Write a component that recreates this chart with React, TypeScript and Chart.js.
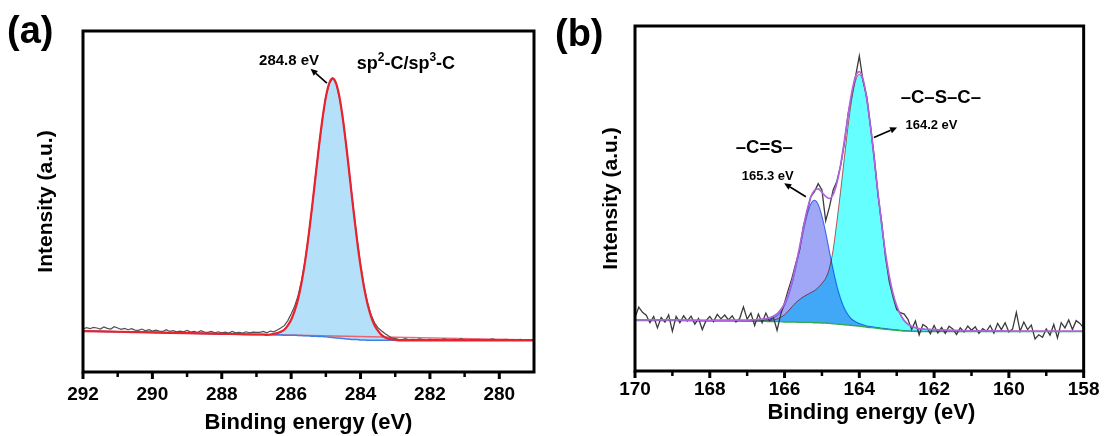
import React, { useEffect, useRef } from 'react';
import { Chart, registerables } from 'chart.js';

Chart.register(...registerables);

const FONT = '"Liberation Sans", Arial, sans-serif';
const W = 1107;
const H = 436;

// ================= Panel (a): C 1s =================
const rangeA = [279, 292];
const ticksA = [292, 290, 288, 286, 284, 282, 280];
const minorTicksA = [291, 289, 287, 285, 283, 281];
const rawStartA = 292.0;
const rawStepA = 0.1;
const rawA = [
  12.6, 13.0, 12.7, 13.1, 12.9, 12.6, 13.2, 12.8, 12.6, 13.3,
  12.9, 12.5, 12.8, 12.4, 12.7, 12.3, 12.2, 12.6, 12.1, 12.4,
  12.0, 12.3, 12.0, 11.9, 12.4, 11.9, 12.1, 11.8, 12.0, 11.8,
  12.2, 11.7, 11.9, 11.6, 12.1, 11.7, 11.6, 11.9, 11.5, 11.8,
  11.5, 11.7, 11.4, 11.9, 11.5, 11.6, 11.4, 11.8, 11.5, 11.7,
  11.6, 11.6, 11.9, 11.5, 12.0, 11.8, 12.3, 12.9, 13.6, 15.0,
  17.0, 19.3, 22.4, 26.8, 32.6, 39.9, 48.0, 57.3, 66.2, 74.0,
  80.8, 84.6, 86.2, 84.6, 80.1, 73.8, 65.2, 56.4, 47.3, 38.9,
  31.5, 25.2, 20.4, 16.9, 14.5, 13.0, 12.1, 11.3, 10.6, 10.0,
  9.8, 9.6, 9.5, 9.8, 9.4, 9.6, 9.4, 9.7, 9.5, 9.3,
  9.6, 9.4, 9.5, 9.3, 9.7, 9.4, 9.3, 9.6, 9.4, 9.8,
  9.4, 9.3, 9.5, 9.4, 9.6, 9.3, 9.5, 9.4, 9.7, 9.4,
  9.3, 9.5, 9.6, 9.4, 9.5, 9.3, 9.6, 9.4, 9.5, 9.4,
  9.6,
];
const fitXA = [
  292, 291, 290, 289, 288, 287.5,
  287.0, 286.9, 286.8, 286.7, 286.6, 286.5, 286.4, 286.3, 286.2, 286.1,
  286.0, 285.9, 285.8, 285.7, 285.6, 285.5, 285.4, 285.3, 285.2, 285.1,
  285.0, 284.9, 284.8, 284.7, 284.6, 284.5, 284.4, 284.3, 284.2, 284.1,
  284.0, 283.9, 283.8, 283.7, 283.6, 283.5, 283.4, 283.3, 283.2, 283.1,
  283.0, 282.9, 282.8, 282.7, 282.6,
  282, 281, 280, 279,
];
const bgA = [
  12.0, 11.8, 11.6, 11.4, 11.2, 11.1,
  11.0, 11.0, 11.0, 10.9, 10.9, 10.9, 10.9, 10.9, 10.8, 10.8,
  10.8, 10.8, 10.7, 10.7, 10.6, 10.6, 10.5, 10.5, 10.4, 10.4,
  10.3, 10.2, 10.1, 10.0, 9.9, 9.8, 9.7, 9.6, 9.5, 9.5,
  9.4, 9.4, 9.3, 9.3, 9.3, 9.3, 9.3, 9.3, 9.3, 9.3,
  9.3, 9.3, 9.3, 9.3, 9.3,
  9.3, 9.3, 9.3, 9.3,
];
const peakA = [
  0, 0, 0, 0, 0, 0,
  0, 0, 0, 0, 0.1, 0.3, 0.5, 0.9, 1.6, 2.8,
  4.5, 7.1, 10.7, 15.5, 21.7, 29.1, 37.6, 46.6, 55.6, 63.7,
  70.3, 74.5, 76.0, 74.5, 70.3, 63.7, 55.6, 46.6, 37.6, 29.1,
  21.7, 15.5, 10.7, 7.1, 4.5, 2.8, 1.6, 0.9, 0.5, 0.3,
  0.1, 0, 0, 0, 0,
  0, 0, 0, 0,
];
const lineXA = [292, 279];
const lineYA = [12.0, 9.4];

// ================= Panel (b): S 2p =================
const rangeB = [158, 170];
const ticksB = [170, 168, 166, 164, 162, 160, 158];
const minorTicksB = [169, 167, 165, 163, 161, 159];
const rawStartB = 170.0;
const rawStepB = 0.1;
const rawB = [
  15.5, 18.5, 17.0, 16.2, 14.0, 15.8, 12.5, 15.5, 14.2, 16.3,
  11.5, 15.8, 14.0, 16.0, 14.5, 15.9, 13.6, 15.2, 12.0, 14.6,
  15.8, 14.3, 16.4, 15.1, 16.2, 14.8, 16.0, 14.2, 15.2, 18.6,
  15.0, 16.8, 13.2, 16.5, 14.0, 16.8, 14.5, 15.6, 11.8, 16.5,
  19.8, 23.5, 27.0, 31.2, 35.0, 41.8, 46.0, 50.5, 52.0, 54.3,
  52.5, 43.5, 47.5, 52.5, 55.0, 59.5, 66.0, 74.5, 80.0, 85.5,
  91.3, 84.0, 79.5, 71.0, 62.0, 51.0, 43.0, 33.0, 26.0, 21.5,
  17.8, 16.9, 16.5, 15.0, 12.0, 14.5, 10.5, 13.5, 12.8, 10.8,
  13.2, 11.0, 12.6, 10.9, 13.0, 12.2, 10.6, 12.5, 11.3, 13.0,
  11.8, 12.8, 10.9, 12.3, 11.5, 13.2, 11.0, 13.8, 12.0, 14.0,
  11.3, 12.2, 17.0, 11.5, 14.2, 12.0, 13.3, 9.3, 10.5, 9.8,
  12.2, 10.4, 13.5, 9.6, 14.0, 12.5, 14.8, 12.0, 14.6, 13.8,
  12.5,
];
const fitXB = [
  170, 169, 168, 167.5, 167.0,
  166.9, 166.8, 166.7, 166.6, 166.5, 166.4, 166.3, 166.2, 166.1, 166.0,
  165.9, 165.8, 165.7, 165.6, 165.5, 165.4, 165.3, 165.2, 165.1, 165.0,
  164.9, 164.8, 164.7, 164.6, 164.5, 164.4, 164.3, 164.2, 164.1, 164.0,
  163.9, 163.8, 163.7, 163.6, 163.5, 163.4, 163.3, 163.2, 163.1, 163.0,
  162.9, 162.8, 162.7, 162.6, 162.5, 162.4, 162.3, 162.2, 162.1, 162.0,
  161.5, 161, 160, 159, 158,
];
const bgB = [
  14.6, 14.6, 14.5, 14.5, 14.4,
  14.4, 14.4, 14.4, 14.4, 14.4, 14.3, 14.3, 14.3, 14.3, 14.2,
  14.2, 14.2, 14.2, 14.1, 14.1, 14.1, 14.1, 14.0, 14.0, 13.9,
  13.9, 13.8, 13.7, 13.6, 13.5, 13.4, 13.3, 13.2, 13.1, 13.0,
  12.9, 12.7, 12.6, 12.5, 12.4, 12.2, 12.1, 12.0, 11.9, 11.8,
  11.7, 11.6, 11.6, 11.5, 11.5, 11.4, 11.4, 11.4, 11.4, 11.4,
  11.4, 11.4, 11.4, 11.4, 11.4,
];
const peakCSB = [
  0.05, 0.05, 0.1, 0.1, 0.15,
  0.2, 0.25, 0.3, 0.35, 0.5, 0.8, 1.2, 1.8, 3.0, 4.8,
  7.5, 11.1, 15.7, 20.9, 26.3, 31.0, 34.3, 35.5, 34.3, 31.0,
  26.3, 20.9, 15.7, 11.1, 7.5, 4.8, 3.0, 1.8, 1.2, 0.8,
  0.5, 0.35, 0.3, 0.25, 0.2, 0.2, 0.2, 0.15, 0.15, 0.15,
  0.1, 0.1, 0.1, 0.1, 0.1, 0.1, 0.1, 0.1, 0.1, 0.1,
  0.1, 0.05, 0.05, 0.05, 0.05,
];
const peakCSCB = [
  0.1, 0.1, 0.15, 0.2, 0.2,
  0.2, 0.2, 0.2, 0.25, 0.3, 0.4, 0.5, 0.8, 1.3, 2.1,
  3.2, 4.4, 5.6, 6.6, 7.4, 8.0, 8.6, 9.3, 10.2, 11.5,
  13.0, 16.0, 21.5, 29.8, 38.8, 48.5, 57.9, 65.8, 71.1, 73.0,
  71.1, 65.8, 57.9, 48.5, 38.8, 29.8, 21.8, 15.3, 10.4, 6.9,
  4.5, 2.9, 1.9, 1.4, 1.0, 0.8, 0.7, 0.6, 0.55, 0.5,
  0.3, 0.2, 0.15, 0.1, 0.1,
];
const envB = [
  14.8, 14.8, 14.7, 14.75, 14.75,
  14.8, 14.85, 14.95, 15.05, 15.2, 15.45, 15.9, 16.55, 17.8, 19.5,
  22.25, 25.9, 30.6, 35.8, 41.4, 46.5, 50.3, 52.4, 52.8, 51.8,
  50.6, 50.0, 51.2, 54.5, 59.8, 66.7, 74.2, 80.8, 85.4, 86.8,
  84.5, 78.9, 70.8, 61.3, 51.5, 42.2, 34.1, 27.5, 22.5, 18.9,
  16.4, 14.6, 13.6, 13.0, 12.6, 12.3, 12.2, 12.1, 12.05, 12.0,
  11.8, 11.65, 11.6, 11.55, 11.55,
];

// ================= helpers =================
type Pt = { x: number; y: number };
function pts(xs: number[], ys: number[], add?: number[]): Pt[] {
  return xs.map((x, i) => ({ x, y: ys[i] + (add ? add[i] : 0) }));
}
function rawPts(start: number, step: number, ys: number[]): Pt[] {
  return ys.map((y, i) => ({ x: +(start - i * step).toFixed(2), y }));
}

type Note = { runs: [string, boolean][]; x: number; y: number; size: number; align: 'left' | 'center' };
type Arrow = { from: [number, number]; to: [number, number] };
type Deco = {
  majors: number[];
  minors: number[];
  xTitle: string;
  xTitleDx: number;
  xTitleDy: number;
  yTitle: string;
  yTitleDx: number;
  panel: string;
  panelDx: number;
  panelDy: number;
  notes: Note[];
  arrows: Arrow[];
};

function decoPlugin(d: Deco) {
  return {
    id: 'deco',
    afterDraw(chart: any) {
      const { ctx, chartArea: a, scales } = chart;
      const sx = scales.x;
      const sy = scales.y;
      ctx.save();
      ctx.globalCompositeOperation = 'source-over';
      ctx.strokeStyle = '#000';
      ctx.fillStyle = '#000';
      ctx.lineWidth = 3;
      ctx.strokeRect(a.left, a.top, a.right - a.left, a.bottom - a.top);
      d.majors.forEach((v) => {
        const px = sx.getPixelForValue(v);
        ctx.lineWidth = 3;
        ctx.beginPath();
        ctx.moveTo(px, a.bottom);
        ctx.lineTo(px, a.bottom + 7);
        ctx.stroke();
      });
      d.minors.forEach((v) => {
        const px = sx.getPixelForValue(v);
        ctx.lineWidth = 2.5;
        ctx.beginPath();
        ctx.moveTo(px, a.bottom);
        ctx.lineTo(px, a.bottom + 5);
        ctx.stroke();
      });
      ctx.textBaseline = 'middle';
      ctx.textAlign = 'center';
      ctx.font = `bold 22px ${FONT}`;
      ctx.fillText(d.xTitle, (a.left + a.right) / 2 + d.xTitleDx, a.bottom + d.xTitleDy);
      ctx.save();
      ctx.translate(a.left + d.yTitleDx, (a.top + a.bottom) / 2);
      ctx.rotate(-Math.PI / 2);
      ctx.font = `bold 21px ${FONT}`;
      ctx.fillText(d.yTitle, 0, 0);
      ctx.restore();
      ctx.textAlign = 'left';
      ctx.font = `bold 38px ${FONT}`;
      ctx.fillText(d.panel, a.left + d.panelDx, a.top + d.panelDy);

      d.notes.forEach((n) => {
        const px = sx.getPixelForValue(n.x);
        const py = sy.getPixelForValue(n.y);
        const supSize = Math.round(n.size * 0.68);
        let w = 0;
        n.runs.forEach(([t, sup]) => {
          ctx.font = `bold ${sup ? supSize : n.size}px ${FONT}`;
          w += ctx.measureText(t).width;
        });
        let cx = n.align === 'center' ? px - w / 2 : px;
        ctx.textAlign = 'left';
        n.runs.forEach(([t, sup]) => {
          ctx.font = `bold ${sup ? supSize : n.size}px ${FONT}`;
          ctx.fillText(t, cx, sup ? py - n.size * 0.36 : py);
          cx += ctx.measureText(t).width;
        });
      });

      d.arrows.forEach((ar) => {
        const x1 = sx.getPixelForValue(ar.from[0]);
        const y1 = sy.getPixelForValue(ar.from[1]);
        const x2 = sx.getPixelForValue(ar.to[0]);
        const y2 = sy.getPixelForValue(ar.to[1]);
        const ang = Math.atan2(y2 - y1, x2 - x1);
        const hl = 7;
        const hw = 3.2;
        const bx = x2 - hl * Math.cos(ang);
        const by = y2 - hl * Math.sin(ang);
        ctx.lineWidth = 1.6;
        ctx.beginPath();
        ctx.moveTo(x1, y1);
        ctx.lineTo(bx, by);
        ctx.stroke();
        ctx.beginPath();
        ctx.moveTo(x2, y2);
        ctx.lineTo(bx + hw * Math.sin(ang), by - hw * Math.cos(ang));
        ctx.lineTo(bx - hw * Math.sin(ang), by + hw * Math.cos(ang));
        ctx.closePath();
        ctx.fill();
      });
      ctx.restore();
    },
  };
}

// Overlapping component fills blend like transparent inks (multiply);
// the lines drawn after the component datasets use normal painting.
const LAST_FILL_INDEX_B = 2;
const multiplyPlugin = {
  id: 'multiplyFills',
  beforeDatasetsDraw(chart: any) {
    chart.ctx.save();
    chart.ctx.globalCompositeOperation = 'multiply';
  },
  afterDatasetDraw(chart: any, args: any) {
    if (args.index === LAST_FILL_INDEX_B) {
      chart.ctx.globalCompositeOperation = 'source-over';
    }
  },
  afterDatasetsDraw(chart: any) {
    chart.ctx.restore();
  },
};

function baseOptions(range: number[], majors: number[], pad: any, yW: number, xH: number, labelPad: number) {
  return {
    animation: false,
    responsive: false,
    devicePixelRatio: 1,
    events: [],
    layout: { padding: pad },
    plugins: { legend: { display: false }, tooltip: { enabled: false } },
    elements: { point: { radius: 0 } },
    scales: {
      x: {
        type: 'linear',
        min: range[0],
        max: range[1],
        reverse: true,
        afterBuildTicks: (s: any) => {
          s.ticks = majors.map((v) => ({ value: v }));
        },
        afterFit: (s: any) => {
          s.height = xH;
        },
        grid: { display: false, drawTicks: false },
        border: { display: false },
        ticks: {
          color: '#000',
          font: { family: FONT, size: 19, weight: 'bold' },
          padding: labelPad,
          maxRotation: 0,
          autoSkip: false,
          callback: (v: any) => String(v),
        },
      },
      y: {
        type: 'linear',
        min: 0,
        max: 100,
        afterFit: (s: any) => {
          s.width = yW;
        },
        grid: { display: false, drawTicks: false },
        border: { display: false },
        ticks: { display: false },
      },
    },
  };
}

function configA(): any {
  return {
    type: 'line',
    data: {
      datasets: [
        {
          label: 'Background',
          data: pts(fitXA, bgA),
          borderColor: '#3d7fe6',
          borderWidth: 1.5,
          fill: false,
          cubicInterpolationMode: 'monotone',
          order: 2,
        },
        {
          label: 'sp2-C/sp3-C',
          data: pts(fitXA, peakA, bgA),
          borderColor: 'rgba(0,0,0,0)',
          borderWidth: 0,
          backgroundColor: '#b4e0fa',
          fill: '-1',
          cubicInterpolationMode: 'monotone',
          order: 4,
        },
        {
          label: 'Linear',
          data: pts(lineXA, lineYA),
          borderColor: 'rgba(236,80,92,0.85)',
          borderWidth: 1.5,
          fill: false,
          order: 3,
        },
        {
          label: 'Raw',
          data: rawPts(rawStartA, rawStepA, rawA),
          borderColor: '#505050',
          borderWidth: 1.2,
          fill: false,
          tension: 0,
          order: 1,
        },
        {
          label: 'Envelope',
          data: pts(fitXA, peakA, bgA),
          borderColor: '#e8222e',
          borderWidth: 2.2,
          fill: false,
          cubicInterpolationMode: 'monotone',
          order: 0,
        },
      ],
    },
    options: baseOptions(rangeA, ticksA, { left: 0, top: 31, right: W - 534, bottom: 0 }, 83, H - 372, 11),
    plugins: [
      decoPlugin({
        majors: ticksA,
        minors: minorTicksA,
        xTitle: 'Binding energy (eV)',
        xTitleDx: 0,
        xTitleDy: 51,
        yTitle: 'Intensity (a.u.)',
        yTitleDx: -37,
        panel: '(a)',
        panelDx: -76,
        panelDy: 2,
        notes: [
          { runs: [['284.8 eV', false]], x: 286.06, y: 91.2, size: 15, align: 'center' },
          {
            runs: [
              ['sp', false],
              ['2', true],
              ['-C/sp', false],
              ['3', true],
              ['-C', false],
            ],
            x: 284.11,
            y: 90.2,
            size: 18,
            align: 'left',
          },
        ],
        arrows: [{ from: [284.97, 84.7], to: [285.44, 88.9] }],
      }),
    ],
  };
}

function configB(): any {
  return {
    type: 'line',
    data: {
      datasets: [
        {
          label: 'Background',
          data: pts(fitXB, bgB),
          borderColor: '#33a852',
          borderWidth: 1.4,
          fill: false,
          cubicInterpolationMode: 'monotone',
          order: 2,
        },
        {
          label: '-C=S-',
          data: pts(fitXB, peakCSB, bgB),
          borderColor: '#4d7ff2',
          borderWidth: 1.1,
          backgroundColor: '#a1a7f7',
          fill: '-1',
          cubicInterpolationMode: 'monotone',
          order: 5,
        },
        {
          label: '-C-S-C-',
          data: pts(fitXB, peakCSCB, bgB),
          borderColor: '#ee5a5a',
          borderWidth: 1,
          backgroundColor: '#66ffff',
          fill: '-2',
          cubicInterpolationMode: 'monotone',
          order: 4,
        },
        {
          label: 'Raw',
          data: rawPts(rawStartB, rawStepB, rawB),
          borderColor: '#3a3a3a',
          borderWidth: 1.3,
          fill: false,
          tension: 0,
          order: 1,
        },
        {
          label: 'Envelope',
          data: pts(fitXB, envB),
          borderColor: '#b063df',
          borderWidth: 1.7,
          fill: false,
          cubicInterpolationMode: 'monotone',
          order: 0,
        },
      ],
    },
    options: baseOptions(rangeB, ticksB, { left: 585, top: 26, right: W - 1086, bottom: 0 }, 50, H - 371, 7.5),
    plugins: [
      multiplyPlugin,
      decoPlugin({
        majors: ticksB,
        minors: minorTicksB,
        xTitle: 'Binding energy (eV)',
        xTitleDx: 12,
        xTitleDy: 42,
        yTitle: 'Intensity (a.u.)',
        yTitleDx: -24,
        panel: '(b)',
        panelDx: -80,
        panelDy: 9.5,
        notes: [
          { runs: [['\u2013C\u2013S\u2013C\u2013', false]], x: 161.82, y: 79.3, size: 18.5, align: 'center' },
          { runs: [['164.2 eV', false]], x: 162.07, y: 71.3, size: 13, align: 'center' },
          { runs: [['\u2013C=S\u2013', false]], x: 166.54, y: 64.8, size: 18.5, align: 'center' },
          { runs: [['165.3 eV', false]], x: 166.45, y: 56.3, size: 13, align: 'center' },
        ],
        arrows: [
          { from: [163.61, 67.7], to: [162.99, 70.6] },
          { from: [165.43, 50.5], to: [166.01, 54.4] },
        ],
      }),
    ],
  };
}

export default function App() {
  const refA = useRef<HTMLCanvasElement>(null);
  const refB = useRef<HTMLCanvasElement>(null);
  useEffect(() => {
    const ca = new Chart(refA.current as HTMLCanvasElement, configA());
    const cb = new Chart(refB.current as HTMLCanvasElement, configB());
    return () => {
      ca.destroy();
      cb.destroy();
    };
  }, []);
  const cs: React.CSSProperties = { position: 'absolute', left: 0, top: 0, width: W, height: H };
  return (
    <div style={{ position: 'fixed', left: 0, top: 0, width: W, height: H, background: '#fff', overflow: 'hidden' }}>
      <canvas ref={refA} width={W} height={H} style={cs} />
      <canvas ref={refB} width={W} height={H} style={cs} />
    </div>
  );
}
